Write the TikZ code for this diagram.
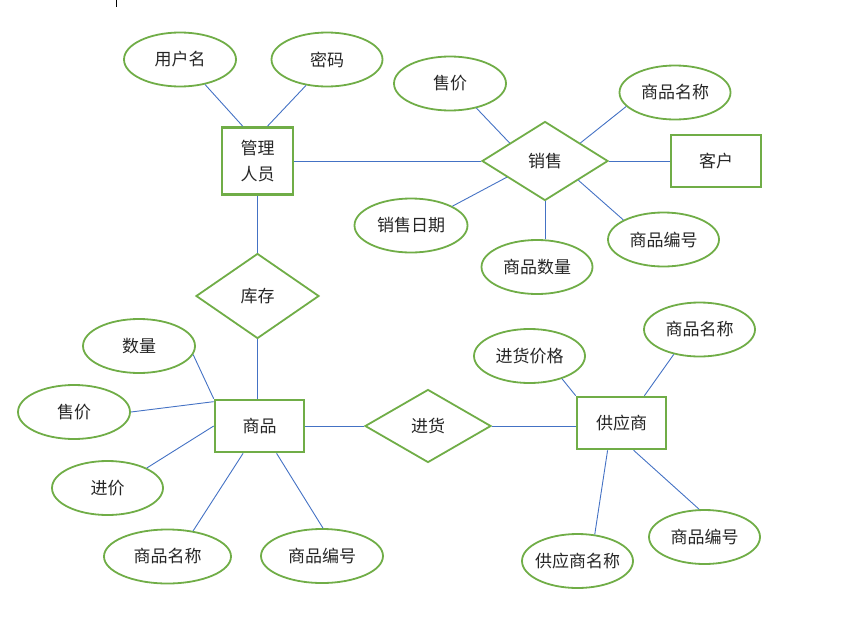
\documentclass[tikz,border=0pt]{standalone}
\usepackage{fontspec}
\setmainfont{Noto Sans CJK SC}
\usetikzlibrary{shapes.geometric}
\definecolor{erGreen}{RGB}{112,173,71}
\definecolor{erBlue}{RGB}{68,114,196}

\begin{document}
\begin{tikzpicture}[x=1pt, y=-1pt,
  attr/.style={ellipse, draw=erGreen, line width=1.8pt, minimum width=111pt, minimum height=54pt, inner sep=0pt},
  ent/.style={rectangle, draw=erGreen, line width=2.6pt, minimum width=89pt, minimum height=52pt, inner sep=0pt, align=center},
  rel/.style={diamond, draw=erGreen, line width=1.8pt, minimum width=126pt, inner sep=0pt},
  link/.style={draw=erBlue, line width=0.9pt},
  font=\fontsize{17}{26}\selectfont, text=black!85]
            \useasboundingbox (0,0) rectangle (843,616);
            \draw[line width=0.8pt] (116,0) -- (116,7);
            % admin and sale
            \node[ent, minimum width=71pt, minimum height=67pt] (admin) at (257.5,161) {管理\\人员};
            \node[attr, minimum width=112pt] (user) at (180,59.5) {用户名};
            \node[attr] (pwd) at (327,59.5) {密码};
            \node[rel, minimum height=79pt] (sale) at (545,161) {销售};
            \node[ent, minimum width=90pt] (cust) at (716,161) {客户};
            \node[attr, minimum width=112pt] (sprice) at (450,83.5) {售价};
            \node[attr] (sname) at (675,92.5) {商品名称};
            \node[attr, minimum width=113pt] (sdate) at (411,225.5) {销售日期};
            \node[attr] (sqty) at (537,267) {商品数量};
            \node[attr] (sno) at (663.5,239.5) {商品编号};
            % stock and goods
            \node[rel, minimum width=123pt, minimum height=85pt] (stock) at (257.5,296) {库存};
            \node[ent] (goods) at (259.5,426) {商品};
            \node[attr, minimum width=112pt] (gqty) at (139,346) {数量};
            \node[attr, minimum width=112pt] (gsale) at (74,412) {售价};
            \node[attr] (gcost) at (107.5,488) {进价};
            \node[attr, minimum width=127pt] (gname) at (167.5,556.5) {商品名称};
            \node[attr, minimum width=122pt] (gno) at (322,556) {商品编号};
            % buy and supplier
            \node[rel, minimum height=73pt] (buy) at (428,426) {进货};
            \node[ent] (sup) at (621.5,423) {供应商};
            \node[attr] (bprice) at (529.5,356) {进货价格};
            \node[attr] (pname) at (699.5,329.5) {商品名称};
            \node[attr] (pfull) at (577.5,561) {\makebox[60pt]{供应商名称}};
            \node[attr] (pno) at (704.5,537) {商品编号};
            % links
            \draw[link] (user.-45) -- (admin.113);
            \draw[link] (pwd.231) -- (admin.74);
            \draw[link] (admin.east) -- (sale.west);
            \draw[link] (sprice.-43) -- (sale.153);
            \draw[link] (sname.196) -- (sale.27);
            \draw[link] (sdate.25) -- (sale.203);
            \draw[link] (sale.south) -- (sale.south |- sqty.north);
            \draw[link] (sno.154) -- (sale.-30);
            \draw[link] (sale.east) -- (cust.west);
            \draw[link] (admin.south) -- (stock.north);
            \draw[link] (stock.south) -- (stock.south |- goods.north);
            \draw[link] (gqty.-9) -- (goods.north west);
            \draw[link] (gsale.east) -- (goods.152);
            \draw[link] (gcost.27) -- (goods.west);
            \draw[link] (gname.45) -- (goods.239);
            \draw[link] (gno.88) -- (goods.-58);
            \draw[link] (goods.east) -- (buy.west);
            \draw[link] (buy.east) -- (buy.east -| sup.west);
            \draw[link] (bprice.-35) -- (sup.north west);
            \draw[link] (pname.224) -- (sup.50);
            \draw[link] (pfull.57) -- (sup.243);
            \draw[link] (pno.101) -- (sup.-66);
        \end{tikzpicture}
\end{document}
